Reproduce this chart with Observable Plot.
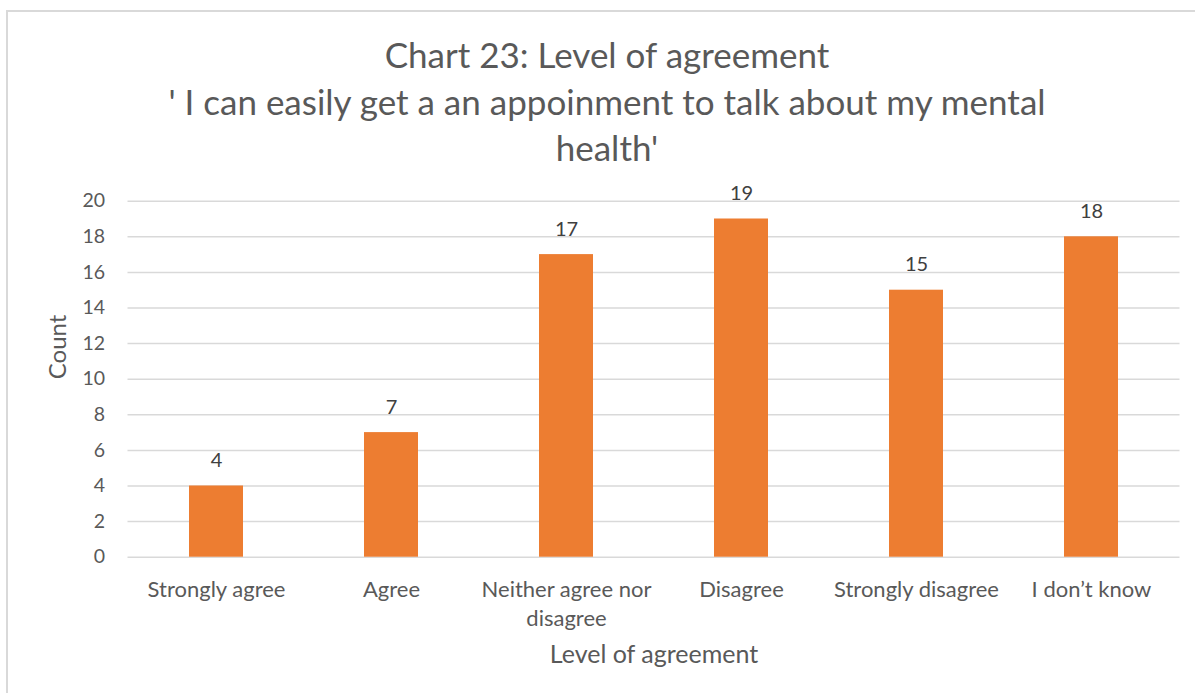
<!DOCTYPE html>
<html>
<head>
<meta charset="utf-8">
<script src="https://cdn.jsdelivr.net/npm/d3@7"></script>
<script src="https://cdn.jsdelivr.net/npm/@observablehq/plot@0.6"></script>
<style>
  html, body { margin: 0; padding: 0; background: white; width: 1195px; height: 693px; overflow: hidden; }
  #wrap { position: relative; width: 1195px; height: 693px; font-family: Lato, sans-serif; }
  #frame { position: absolute; left: 6px; top: 10px; width: 1300px; height: 800px;
           border-left: 2px solid #d9d9d9; border-top: 2px solid #d9d9d9; pointer-events: none; }
  #title { position: relative; height: 180px; box-sizing: border-box; padding-top: 31px;
           margin-left: 107px; width: 1000px; text-align: center; color: #595959;
           font-size: 35px; line-height: 46.5px; }
  #chart { position: relative; }
</style>
</head>
<body>
<div id="wrap">
  <div id="frame"></div>
  <div id="title"></div>
  <div id="chart"></div>
</div>
<script>
const titleLines = [
  "Chart 23: Level of agreement",
  "' I can easily get a an appoinment to talk about my mental",
  "health'"
];
const categories = ["Strongly agree", "Agree", "Neither agree nor disagree", "Disagree", "Strongly disagree", "I don\u2019t know"];
const counts = [4, 7, 17, 19, 15, 18];
const yTicks = [0, 2, 4, 6, 8, 10, 12, 14, 16, 18, 20];
const xAxisLabel = "Level of agreement";
const yAxisLabel = "Count";
const tickLines = {"Neither agree nor disagree": "Neither agree nor\ndisagree"};

const data = categories.map((c, i) => ({cat: c, count: counts[i]}));

const t = document.getElementById("title");
titleLines.forEach(l => { const d = document.createElement("div"); d.textContent = l; t.appendChild(d); });

const chart = Plot.plot({
  width: 1195,
  height: 513,
  marginTop: 20.7,
  marginBottom: 136.3,
  marginLeft: 127.5,
  marginRight: 15.5,
  style: {fontFamily: "Lato, sans-serif", color: "#595959", background: "transparent", overflow: "visible"},
  x: {domain: categories, paddingInner: 0.69, paddingOuter: 0.345, label: null},
  y: {domain: [0, 20], label: null},
  marks: [
    Plot.gridY(yTicks, {stroke: "#d9d9d9", strokeOpacity: 1, strokeWidth: 1.5}),
    Plot.barY(data, {x: "cat", y: "count", fill: "#ED7D31"}),
    Plot.text(data, {x: "cat", y: "count", text: d => String(d.count), lineAnchor: "bottom", dy: -19, fontSize: 20, fill: "#404040"}),
    Plot.axisY(yTicks, {tickSize: 0, tickPadding: 23, fontSize: 19.5, label: null}),
    Plot.axisX({tickSize: 0, tickPadding: 19, fontSize: 22, lineHeight: 1.32, label: null, tickFormat: d => tickLines[d] || d}),
    Plot.text([xAxisLabel], {frameAnchor: "bottom", text: d => d, dy: 106, fontSize: 25, fill: "#595959"}),
    Plot.text([yAxisLabel], {frameAnchor: "left", text: d => d, dx: -70, rotate: -90, fontSize: 24, fill: "#595959"})
  ]
});
document.getElementById("chart").appendChild(chart);
</script>
</body>
</html>
